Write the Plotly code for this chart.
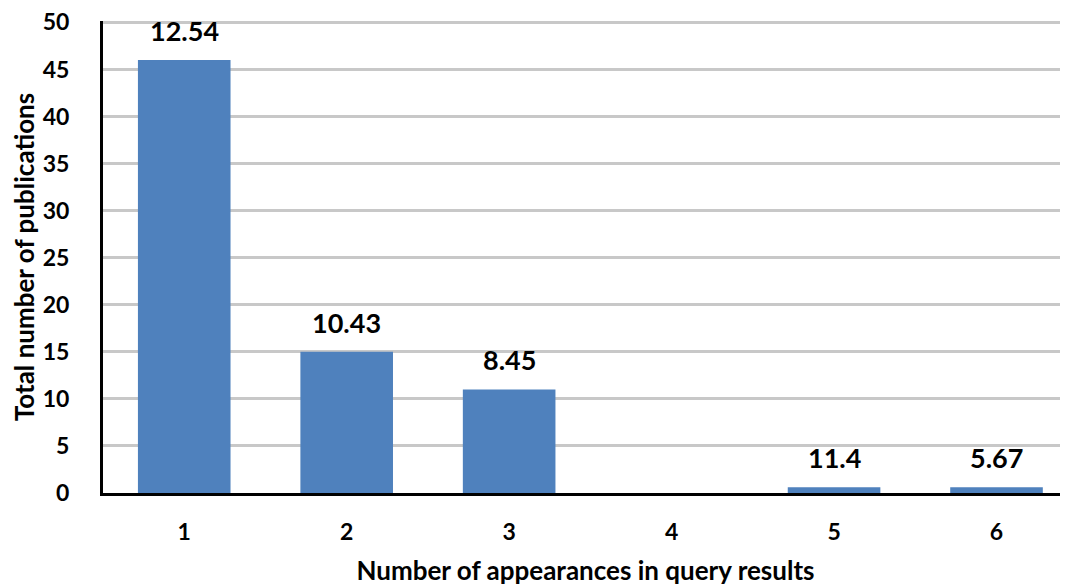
import plotly.graph_objects as go

categories = [1, 2, 3, 4, 5, 6]
counts = [46, 15, 11, 0, 0.6, 0.6]
labels = ["12.54", "10.43", "8.45", "", "11.4", "5.67"]
y_ticks = [0, 5, 10, 15, 20, 25, 30, 35, 40, 45, 50]

FONT = "Lato"
fig = go.Figure()
fig.add_trace(go.Bar(
    x=categories, y=counts, width=0.57,
    marker=dict(color="#4f81bd", line=dict(width=0)),
    hoverinfo="skip",
))
for c, v, t in zip(categories, counts, labels):
    if t:
        fig.add_annotation(x=c, y=v, text=f"<b>{t}</b>", showarrow=False,
                           yanchor="bottom", yshift=11,
                           font=dict(family=FONT, size=27, color="#000000"))

fig.update_layout(
    width=1060, height=579,
    margin=dict(l=95, r=0, t=13, b=94),
    paper_bgcolor="white", plot_bgcolor="white",
    showlegend=False,
    font=dict(family=FONT, color="#000000"),
    xaxis=dict(
        range=[0.5, 6.44], tickmode="array", tickvals=categories,
        ticktext=[f"<b>{c}</b>" for c in categories],
        tickfont=dict(family=FONT, size=23),
        showline=True, linecolor="black", linewidth=3,
        showgrid=False, zeroline=False, ticks="", ticklabelstandoff=16,
        automargin=False, ticklabeloverflow="allow",
        title=dict(text="<b>Number of appearances in query results</b>",
                   font=dict(family=FONT, size=26), standoff=19),
    ),
    yaxis=dict(
        range=[0, 50.15], tickmode="array", tickvals=y_ticks,
        ticktext=[f"<b>{v}</b>" for v in y_ticks],
        tickfont=dict(family=FONT, size=23),
        showline=True, linecolor="black", linewidth=3,
        showgrid=True, gridcolor="#c8c8c8", gridwidth=3,
        zeroline=False, ticks="", ticklabelstandoff=26,
        automargin=False, ticklabeloverflow="allow",
        title=dict(text="<b>Total number of publications</b>",
                   font=dict(family=FONT, size=26), standoff=13),
    ),
)
fig.write_html("out.html")
